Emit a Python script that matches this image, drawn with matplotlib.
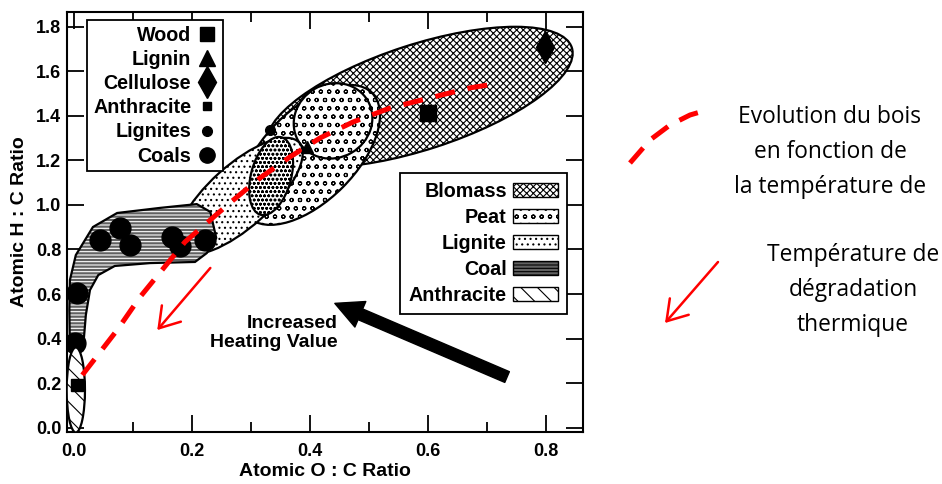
import numpy as np
import matplotlib.pyplot as plt
from matplotlib.patches import Ellipse, Polygon, Patch
from matplotlib.lines import Line2D
from matplotlib.transforms import Affine2D

plt.rcParams["font.family"] = ["Liberation Sans", "DejaVu Sans"]
plt.rcParams["font.weight"] = "bold"
plt.rcParams["hatch.linewidth"] = 0.8

# sample points (atomic O:C, atomic H:C)
wood_oc, wood_hc = [0.600], [1.413]
lignin_oc, lignin_hc = [0.395], [1.261]
cellulose_oc, cellulose_hc = [0.798], [1.710]
anthracite_oc, anthracite_hc = [0.005], [0.191]
lignites_oc, lignites_hc = [0.332], [1.337]
coals_oc = [0.005, 0.002, 0.044, 0.078, 0.095, 0.166, 0.180, 0.222]
coals_hc = [0.604, 0.380, 0.843, 0.897, 0.820, 0.856, 0.816, 0.843]

# fuel regions drawn as ellipses: centre, size (in O:C units), tilt (deg)
reg_names = ["Blomass", "Peat", "Peat", "Lignite", "Peat", "Anthracite"]
reg_oc = [0.586, 0.400, 0.439, 0.281, 0.334, 0.003]
reg_hc = [1.485, 1.225, 1.378, 1.040, 1.130, 0.169]
reg_w = [0.542, 0.297, 0.136, 0.271, 0.068, 0.031]
reg_h = [0.178, 0.156, 0.125, 0.105, 0.136, 0.144]
reg_ang = [18, 45, 30, 42, -15, 0]

# coal band outline
coal_oc = [-0.007, -0.008, -0.007, 0.003, 0.032, 0.073, 0.146, 0.208, 0.231,
           0.241, 0.225, 0.205, 0.129, 0.069, 0.041, 0.027, 0.020, 0.015]
coal_hc = [0.348, 0.528, 0.663, 0.775, 0.901, 0.964, 0.987, 1.004, 0.969,
           0.852, 0.784, 0.744, 0.739, 0.726, 0.685, 0.618, 0.506, 0.348]

# evolution of wood with temperature (red dashed path)
evo_oc = [0.014, 0.073, 0.112, 0.188, 0.264, 0.315, 0.366, 0.417, 0.473,
          0.536, 0.603, 0.671, 0.722]
evo_hc = [0.236, 0.438, 0.587, 0.834, 1.009, 1.121, 1.216, 1.301, 1.373,
          1.436, 1.481, 1.526, 1.548]

hatches = {"Blomass": "xxxxx", "Peat": "oo", "Lignite": "...",
           "Coal": "-----", "Anthracite": "\\\\"}
coal_face = "0.38"

fig = plt.figure(figsize=(9.42, 4.84), dpi=100)
ax = fig.add_axes([0.0711, 0.1074, 0.5478, 0.8678])
xlim = (-0.012, 0.8627)
ylim = (-0.020, 1.867)
ax.set_xlim(*xlim)
ax.set_ylim(*ylim)

# ratio of pixel scales so ellipses keep their look
k = (0.5478 * 942 / (xlim[1] - xlim[0])) / (0.8678 * 484 / (ylim[1] - ylim[0]))
tr = Affine2D().scale(1, k) + ax.transData

zs = [1, 2, 3, 4, 5, 7]
for name, x, y, w, h, a, z in zip(reg_names, reg_oc, reg_hc, reg_w, reg_h, reg_ang, zs):
    e = Ellipse((x, y / k), w, h, angle=a, transform=tr, facecolor="white",
                edgecolor="black", hatch=hatches[name], lw=1.6, zorder=z)
    ax.add_patch(e)
    if name == "Peat" and w < 0.1:
        e.set_hatch("oooo")

coal_xy = np.column_stack([coal_oc, coal_hc])
ax.add_patch(Polygon(coal_xy, closed=True, facecolor=coal_face, edgecolor="white",
                     hatch=hatches["Coal"], lw=0, zorder=6))
ax.add_patch(Polygon(coal_xy, closed=True, fill=False, edgecolor="black",
                     lw=1.6, zorder=6))

ax.plot(wood_oc, wood_hc, "s", color="black", ms=11, zorder=9)
ax.plot(lignin_oc, lignin_hc, "^", color="black", ms=8, zorder=9)
ax.plot(cellulose_oc, cellulose_hc, "d", color="black", ms=16, zorder=9)
ax.plot(anthracite_oc, anthracite_hc, "s", color="black", ms=9, zorder=9)
ax.plot(lignites_oc, lignites_hc, "o", color="black", ms=7, zorder=9)
ax.plot(coals_oc, coals_hc, "o", color="black", ms=15, zorder=6.5)

ax.plot(evo_oc, evo_hc, color="red", lw=3.6, ls=(0, (4, 2.6)), zorder=8)

ax.annotate("", xy=(0.141, 0.438), xytext=(0.231, 0.717),
            arrowprops=dict(arrowstyle="->,head_length=0.7,head_width=0.45",
                            color="red", lw=1.8, mutation_scale=20,
                            shrinkA=0, shrinkB=0), zorder=8)
ax.annotate("", xy=(0.442, 0.558), xytext=(0.734, 0.227),
            arrowprops=dict(arrowstyle="simple,head_length=1.0,head_width=1.0,tail_width=0.42",
                            color="black", mutation_scale=20,
                            shrinkA=0, shrinkB=0), zorder=8)
ax.text(0.447, 0.425, "Increased\nHeating Value", ha="right", va="center",
        fontsize=14, linespacing=1.1, zorder=9)

ax.set_xticks(np.arange(0, 0.81, 0.2))
ax.set_xticks([0.1, 0.3, 0.5, 0.7], minor=True)
ax.set_yticks(np.arange(0, 1.81, 0.2))
ax.set_xticklabels([f"{v:.1f}" for v in np.arange(0, 0.81, 0.2)])
ax.set_yticklabels([f"{v:.1f}" for v in np.arange(0, 1.81, 0.2)])
ax.tick_params(which="both", direction="in", top=True, right=True,
               width=1.3, labelsize=13)
ax.tick_params(which="major", length=12)
ax.tick_params(which="minor", length=7)
ax.tick_params(axis="x", pad=8)
ax.tick_params(axis="y", pad=4)
for s in ax.spines.values():
    s.set_linewidth(1.5)
ax.set_xlabel("Atomic O : C Ratio", fontsize=14, fontweight="bold", labelpad=2)
ax.set_ylabel("Atomic H : C Ratio", fontsize=14, fontweight="bold", labelpad=6)

# legend of sample points
pt_handles = [
    Line2D([], [], ls="", marker="s", color="black", ms=10),
    Line2D([], [], ls="", marker="^", color="black", ms=12),
    Line2D([], [], ls="", marker="d", color="black", ms=16),
    Line2D([], [], ls="", marker="s", color="black", ms=6),
    Line2D([], [], ls="", marker="o", color="black", ms=7),
    Line2D([], [], ls="", marker="o", color="black", ms=11),
]
pt_labels = ["Wood", "Lignin", "Cellulose", "Anthracite", "Lignites", "Coals"]
leg1 = ax.legend(pt_handles, pt_labels, loc="upper left",
                 bbox_to_anchor=(0.039, 0.981), markerfirst=False,
                 frameon=True, fancybox=False, edgecolor="black",
                 framealpha=1, handlelength=1.0, handletextpad=0.3,
                 labelspacing=0.26, borderpad=0.3, borderaxespad=0,
                 prop={"size": 14.2, "weight": "bold"})
leg1.get_frame().set_linewidth(1.3)
leg1.set_zorder(10)
ax.add_artist(leg1)

# legend of regions
reg_labels = ["Blomass", "Peat", "Lignite", "Coal", "Anthracite"]
reg_handles = [Patch(facecolor="white", edgecolor="black", hatch=hatches["Blomass"], lw=1),
               Patch(facecolor="white", edgecolor="black", hatch=hatches["Peat"], lw=1),
               Patch(facecolor="white", edgecolor="black", hatch=hatches["Lignite"], lw=1),
               Patch(facecolor=coal_face, edgecolor="black", hatch=hatches["Coal"], lw=1),
               Patch(facecolor="white", edgecolor="black", hatch=hatches["Anthracite"], lw=1)]
leg2 = ax.legend(reg_handles, reg_labels, loc="upper right",
                 bbox_to_anchor=(0.969, 0.617), markerfirst=False,
                 frameon=True, fancybox=False, edgecolor="black",
                 framealpha=1, handlelength=2.3, handleheight=0.75,
                 handletextpad=0.3, labelspacing=0.36, borderpad=0.45,
                 borderaxespad=0, prop={"size": 14.2, "weight": "bold"})
leg2.get_frame().set_linewidth(1.3)
leg2.set_zorder(10)

# annotations to the right of the chart (figure pixels)
note = fig.add_axes([0, 0, 1, 1], facecolor="none")
note.set_xlim(0, 942)
note.set_ylim(484, 0)
note.axis("off")
arc_x = [630, 650, 670, 690, 707]
arc_y = [163, 140, 125, 115, 110]
note.plot(arc_x, arc_y, color="red", lw=3.6, ls=(0, (4, 2.6)))
note.annotate("", xy=(665, 323), xytext=(718, 262),
              arrowprops=dict(arrowstyle="->,head_length=0.7,head_width=0.45",
                              color="red", lw=1.8, mutation_scale=20,
                              shrinkA=0, shrinkB=0))
note.text(830, 152, "Evolution du bois\nen fonction de\nla température de",
          ha="center", va="center", fontsize=16.4, linespacing=1.62,
          family=["Open Sans", "DejaVu Sans"], weight="normal")
note.text(853, 290, "Température de\ndégradation\nthermique",
          ha="center", va="center", fontsize=16.4, linespacing=1.62,
          family=["Open Sans", "DejaVu Sans"], weight="normal")

fig.savefig("out.png", dpi=100)
